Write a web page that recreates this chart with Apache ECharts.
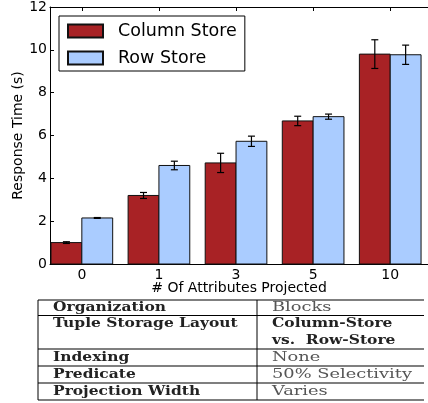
<!DOCTYPE html>
<html>
<head>
<meta charset="utf-8">
<script src="https://cdn.jsdelivr.net/npm/echarts@6/dist/echarts.min.js"></script>
<style>
  html, body { margin: 0; padding: 0; background: #fff; }
  #chart { width: 428px; height: 403px; }
</style>
</head>
<body>
<div id="chart"></div>
<script>
// attributes projected
var categories = ['0', '1', '3', '5', '10'];
// response time (s)
var columnStore = [1.0, 3.2, 4.72, 6.68, 9.8];
var columnErr = [0.04, 0.14, 0.45, 0.22, 0.67];
var rowStore = [2.15, 4.6, 5.73, 6.88, 9.77];
var rowErr = [0.02, 0.2, 0.24, 0.12, 0.45];

// setup table under the plot
var tableLabels = ['Organization', 'Tuple Storage Layout', 'Indexing', 'Predicate', 'Projection Width'];
var tableValues = ['Blocks', 'Column-Store\nvs.  Row-Store', 'None', '50% Selectivity', 'Varies'];

var myChart = echarts.init(document.getElementById('chart'));

var idx = categories.map(function (c, i) { return i; });
var off = 0.2;   // bar centre offset from tick
var half = 0.2;  // half bar width, in category units

function barData(vals, errs, shift) {
  return vals.map(function (v, i) { return [i + shift, v, v - errs[i], v + errs[i]]; });
}

function makeBar(fill) {
  return function (params, api) {
    var x = api.value(0);
    var p0 = api.coord([x - half, api.value(1)]);
    var p1 = api.coord([x + half, 0]);
    return {
      type: 'rect',
      shape: { x: p0[0], y: p0[1], width: p1[0] - p0[0], height: p1[1] - p0[1] },
      style: { fill: fill, stroke: '#111', lineWidth: 1 }
    };
  };
}

function renderErr(params, api) {
  var x = api.value(0);
  var lo = api.coord([x, api.value(2)]);
  var hi = api.coord([x, api.value(3)]);
  var cap = 3.5;
  var st = { stroke: '#000', lineWidth: 1.2 };
  return {
    type: 'group',
    children: [
      { type: 'line', shape: { x1: lo[0], y1: lo[1], x2: hi[0], y2: hi[1] }, style: st },
      { type: 'line', shape: { x1: lo[0] - cap, y1: lo[1], x2: lo[0] + cap, y2: lo[1] }, style: st },
      { type: 'line', shape: { x1: hi[0] - cap, y1: hi[1], x2: hi[0] + cap, y2: hi[1] }, style: st }
    ]
  };
}

// table graphics
var tbl = [];
var rowLines = [300, 315.5, 349, 366, 383, 400];
rowLines.forEach(function (y) {
  tbl.push({ type: 'line', shape: { x1: 38, y1: y, x2: 424, y2: y }, style: { stroke: '#000', lineWidth: 1.2 } });
});
[38, 257].forEach(function (x) {
  tbl.push({ type: 'line', shape: { x1: x, y1: 300, x2: x, y2: 400 }, style: { stroke: '#000', lineWidth: 1 } });
});
tableLabels.forEach(function (t, i) {
  var y = i === 1 ? 323.5 : (rowLines[i] + rowLines[i + 1]) / 2;
  tbl.push({
    type: 'text', x: 53, y: y, scaleX: 1.19,
    style: { text: t, font: 'bold 13px "DejaVu Serif"', fill: '#222', verticalAlign: 'middle', textAlign: 'left' }
  });
  var bold = i === 1;
  tbl.push({
    type: 'text', x: 272, y: bold ? 315 : y, scaleX: bold ? 1.19 : 1.37,
    style: {
      text: tableValues[i],
      font: (bold ? 'bold 13px' : '13px') + ' "DejaVu Serif"',
      fill: bold ? '#222' : '#555',
      lineHeight: 17,
      verticalAlign: bold ? 'top' : 'middle', textAlign: 'left'
    }
  });
});

var option = {
  animation: false,
  textStyle: { fontFamily: 'DejaVu Sans' },
  grid: { left: 50, top: 6, right: -2, bottom: 139 },
  legend: {
    orient: 'vertical',
    left: 59, top: 16,
    padding: [5, 8, 3, 8],
    itemGap: 7,
    itemWidth: 35, itemHeight: 13,
    borderColor: '#000', borderWidth: 1,
    backgroundColor: '#fff',
    icon: 'rect',
    textStyle: { fontSize: 17.5, color: '#000', lineHeight: 20, padding: [0, 0, 0, 10] },
    data: ['Column Store', 'Row Store']
  },
  xAxis: [{
    type: 'value',
    min: -0.413, max: 4.49,
    position: 'bottom',
    axisLine: { show: true, onZero: false, lineStyle: { color: '#000', width: 1 } },
    axisTick: { show: true, inside: true, length: 4, customValues: idx, lineStyle: { color: '#000' } },
    axisLabel: {
      customValues: idx, margin: 4, fontSize: 14, color: '#000',
      formatter: function (v) { return categories[Math.round(v)]; }
    },
    splitLine: { show: false },
    name: '# Of Attributes Projected',
    nameLocation: 'middle', nameGap: 17, nameMoveOverlap: false,
    nameTextStyle: { fontSize: 14, color: '#000' }
  }, {
    type: 'value',
    min: -0.413, max: 4.49,
    position: 'top',
    axisLine: { show: true, onZero: false, lineStyle: { color: '#000', width: 1 } },
    axisTick: { show: true, inside: true, length: 4, customValues: idx, lineStyle: { color: '#000' } },
    axisLabel: { show: false },
    splitLine: { show: false }
  }],
  yAxis: {
    type: 'value',
    min: 0, max: 12, interval: 2,
    axisLine: { show: true, onZero: false, lineStyle: { color: '#000', width: 1 } },
    axisTick: { show: true, inside: true, length: 4, lineStyle: { color: '#000' } },
    axisLabel: { fontSize: 14, color: '#000', margin: 3 },
    splitLine: { show: false },
    name: 'Response Time (s)',
    nameLocation: 'middle', nameGap: 25, nameMoveOverlap: false,
    nameTextStyle: { fontSize: 14, color: '#000' }
  },
  series: [{
    name: 'Column Store',
    type: 'custom',
    renderItem: makeBar('#A82225'),
    itemStyle: { color: '#A82225', borderColor: '#111', borderWidth: 1 },
    encode: { x: 0, y: 1 },
    data: barData(columnStore, columnErr, -off)
  }, {
    name: 'Row Store',
    type: 'custom',
    renderItem: makeBar('#AACCFF'),
    itemStyle: { color: '#AACCFF', borderColor: '#111', borderWidth: 1 },
    encode: { x: 0, y: 1 },
    data: barData(rowStore, rowErr, off)
  }, {
    type: 'custom',
    renderItem: renderErr,
    z: 5,
    encode: { x: 0, y: [2, 3] },
    data: barData(columnStore, columnErr, -off)
  }, {
    type: 'custom',
    renderItem: renderErr,
    z: 5,
    encode: { x: 0, y: [2, 3] },
    data: barData(rowStore, rowErr, off)
  }],
  graphic: tbl
};

myChart.setOption(option);
</script>
</body>
</html>
